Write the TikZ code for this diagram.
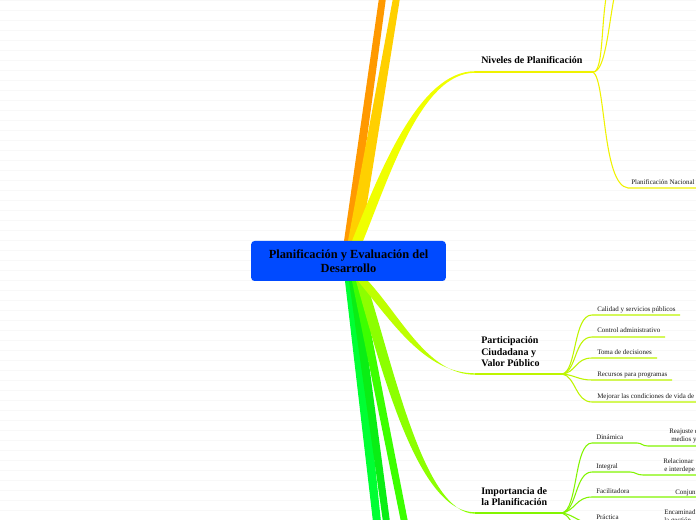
\documentclass[tikz,border=0pt]{standalone}
\usepackage{fontspec}
\setmainfont{Liberation Serif}
\usepackage{xcolor}
\definecolor{rootblue}{RGB}{0,74,255}
\definecolor{naranja}{RGB}{255,153,0}
\definecolor{dorado}{RGB}{255,208,0}
\definecolor{amarillo}{RGB}{240,255,0}
\definecolor{amarillofino}{RGB}{240,242,0}
\definecolor{lima}{RGB}{190,255,0}
\definecolor{limafino}{RGB}{190,245,0}
\definecolor{verdelima}{RGB}{140,255,0}
\definecolor{verdelimafino}{RGB}{130,245,0}
\definecolor{verdeA}{RGB}{0,255,51}
\definecolor{verdeB}{RGB}{10,238,20}
\definecolor{verdeC}{RGB}{60,255,0}
\definecolor{raya}{RGB}{248,248,248}

\begin{document}
\begin{tikzpicture}[x=0.75pt,y=-0.75pt,
  rootbox/.style={fill=rootblue,rounded corners=2.5pt,minimum width=146pt,minimum height=30pt,
    inner sep=0pt,align=center,font=\bfseries\fontsize{9.3}{10.5}\selectfont},
  tema/.style={inner sep=0pt,align=left,font=\bfseries\fontsize{7.5}{8.6}\selectfont},
  hoja/.style={inner sep=0pt,anchor=base west,font=\fontsize{5.2}{6}\selectfont,text=black!90},
  fino/.style={line width=0.8pt}]
\useasboundingbox (0,0) rectangle (696,520);
\clip (0,0) rectangle (696,520);
\fill[white] (0,0) rectangle (696,520);
\foreach \y in {0,10,...,520}
  \draw[raya,line width=0.6pt] (0,\y)--(696,\y);

% tronco superior
\fill[naranja] (344,241) -- (353,241) -- (386,-2) -- (379,-2) -- cycle;
\fill[dorado] (348,241) -- (361,241) -- (400,-2) -- (393,-2) -- cycle;
\fill[amarillo] (352,241) .. controls (381,168) and (420,71.2) .. (475,71.2)
  -- (475,72.8) .. controls (422,72.8) and (391,172) .. (363,241) -- cycle;

% tronco inferior
\fill[verdeA] (345,281) -- (356,281) -- (381,522) -- (373,522) -- cycle;
\fill[verdeB] (349,281) -- (358,281) -- (390,522) -- (383,522) -- cycle;
\fill[verdeC] (352,281) -- (361,281) -- (408,522) -- (401,522) -- cycle;
\fill[verdelima] (356,281) .. controls (382,372) and (418,512.3) .. (475,512.3)
  -- (475,513.7) .. controls (424,513.7) and (394,368) .. (366,281) -- cycle;
\fill[lima] (358,281) .. controls (392,322) and (425,373.3) .. (475,373.3)
  -- (475,374.7) .. controls (428,374.7) and (402,318) .. (368,281) -- cycle;

\node[rootbox] (root) at (348.5,261) {Planificación y Evaluación del\\Desarrollo};

% Niveles de Planificacion
\coordinate (nivA) at (475,72);
\coordinate (nivJ) at (593,72);
\node[tema,anchor=base west] (niv) at (481,63.5) {Niveles de Planificación};
\draw[amarillofino,line width=1pt] (nivA) -- (nivJ);
\draw[amarillofino,fino] (nivJ) .. controls (603,72) and (601,30) .. (606,-2);
\draw[amarillofino,fino] (nivJ) .. controls (605,72) and (608,30) .. (614,-2);
\coordinate (nacA) at (628,188);
\draw[amarillofino,fino] (nivJ) .. controls (606,80) and (602,185) .. (nacA) -- (700,188);
\node[hoja] (nac) at (631,185) {Planificación Nacional};

% Participacion Ciudadana
\coordinate (parA) at (475,374);
\coordinate (parJ) at (562,374);
\node[tema,anchor=south west] (par) at (481,367) {Participación\\Ciudadana y\\Valor Público};
\draw[limafino,line width=1pt] (parA) -- (parJ);
\draw[limafino,fino] (parJ) .. controls (577,372) and (573,315) .. (592,315) -- (680,315);
\draw[limafino,fino] (parJ) .. controls (577,372) and (574,337) .. (592,337) -- (665,337);
\draw[limafino,fino] (parJ) .. controls (576,373) and (575,358) .. (592,358) -- (657,358);
\draw[limafino,fino] (parJ) .. controls (575,375) and (578,380) .. (592,380) -- (672,380);
\draw[limafino,fino] (parJ) .. controls (576,376) and (575,402) .. (592,402) -- (700,402);
\node[hoja] (cal) at (597,311.5) {Calidad y servicios públicos};
\node[hoja] (con) at (597,333) {Control administrativo};
\node[hoja] (tom) at (597,354.5) {Toma de decisiones};
\node[hoja] (rec) at (597,376.5) {Recursos para programas};
\node[hoja] (mej) at (597,398.5) {Mejorar las condiciones de vida de};

% Importancia de la Planificacion
\coordinate (impA) at (475,513);
\coordinate (impJ) at (562,513);
\node[tema,anchor=south west] (imp) at (481,506) {Importancia de\\la Planificación};
\draw[verdelimafino,line width=1pt] (impA) -- (impJ);
\draw[verdelimafino,fino] (impJ) .. controls (578,510) and (574,443) .. (592,443) -- (637,443)
  .. controls (642,443) and (642,446) .. (648,446) -- (700,446);
\draw[verdelimafino,fino] (impJ) .. controls (577,511) and (575,472) .. (592,472) -- (630,472)
  .. controls (636,472) and (636,475) .. (643,475) -- (700,475);
\draw[verdelimafino,fino] (impJ) .. controls (575,511) and (576,497) .. (592,497) -- (700,497);
\draw[verdelimafino,fino] (impJ) .. controls (575,515) and (578,523) .. (592,523) -- (700,523);
\draw[verdelimafino,fino] (impJ) .. controls (575,517) and (576,545) .. (592,545) -- (700,545);
\node[hoja] (din) at (596,439.5) {Dinámica};
\node[hoja] (int) at (596,468.5) {Integral};
\node[hoja] (fac) at (596,493.5) {Facilitadora};
\node[hoja] (pra) at (596,519) {Práctica};
\node[hoja] (din1) at (669,433.5) {Reajuste de};
\node[hoja] (din2) at (671,441.5) {medios y};
\node[hoja] (int1) at (663,463.5) {Relacionar};
\node[hoja] (int2) at (664,471) {e interdepe};
\node[hoja] (fac1) at (675,494) {Conjun};
\node[hoja] (pra1) at (664,514.5) {Encaminad};
\node[hoja] (pra2) at (664,522) {la gestión};
\end{tikzpicture}
\end{document}
